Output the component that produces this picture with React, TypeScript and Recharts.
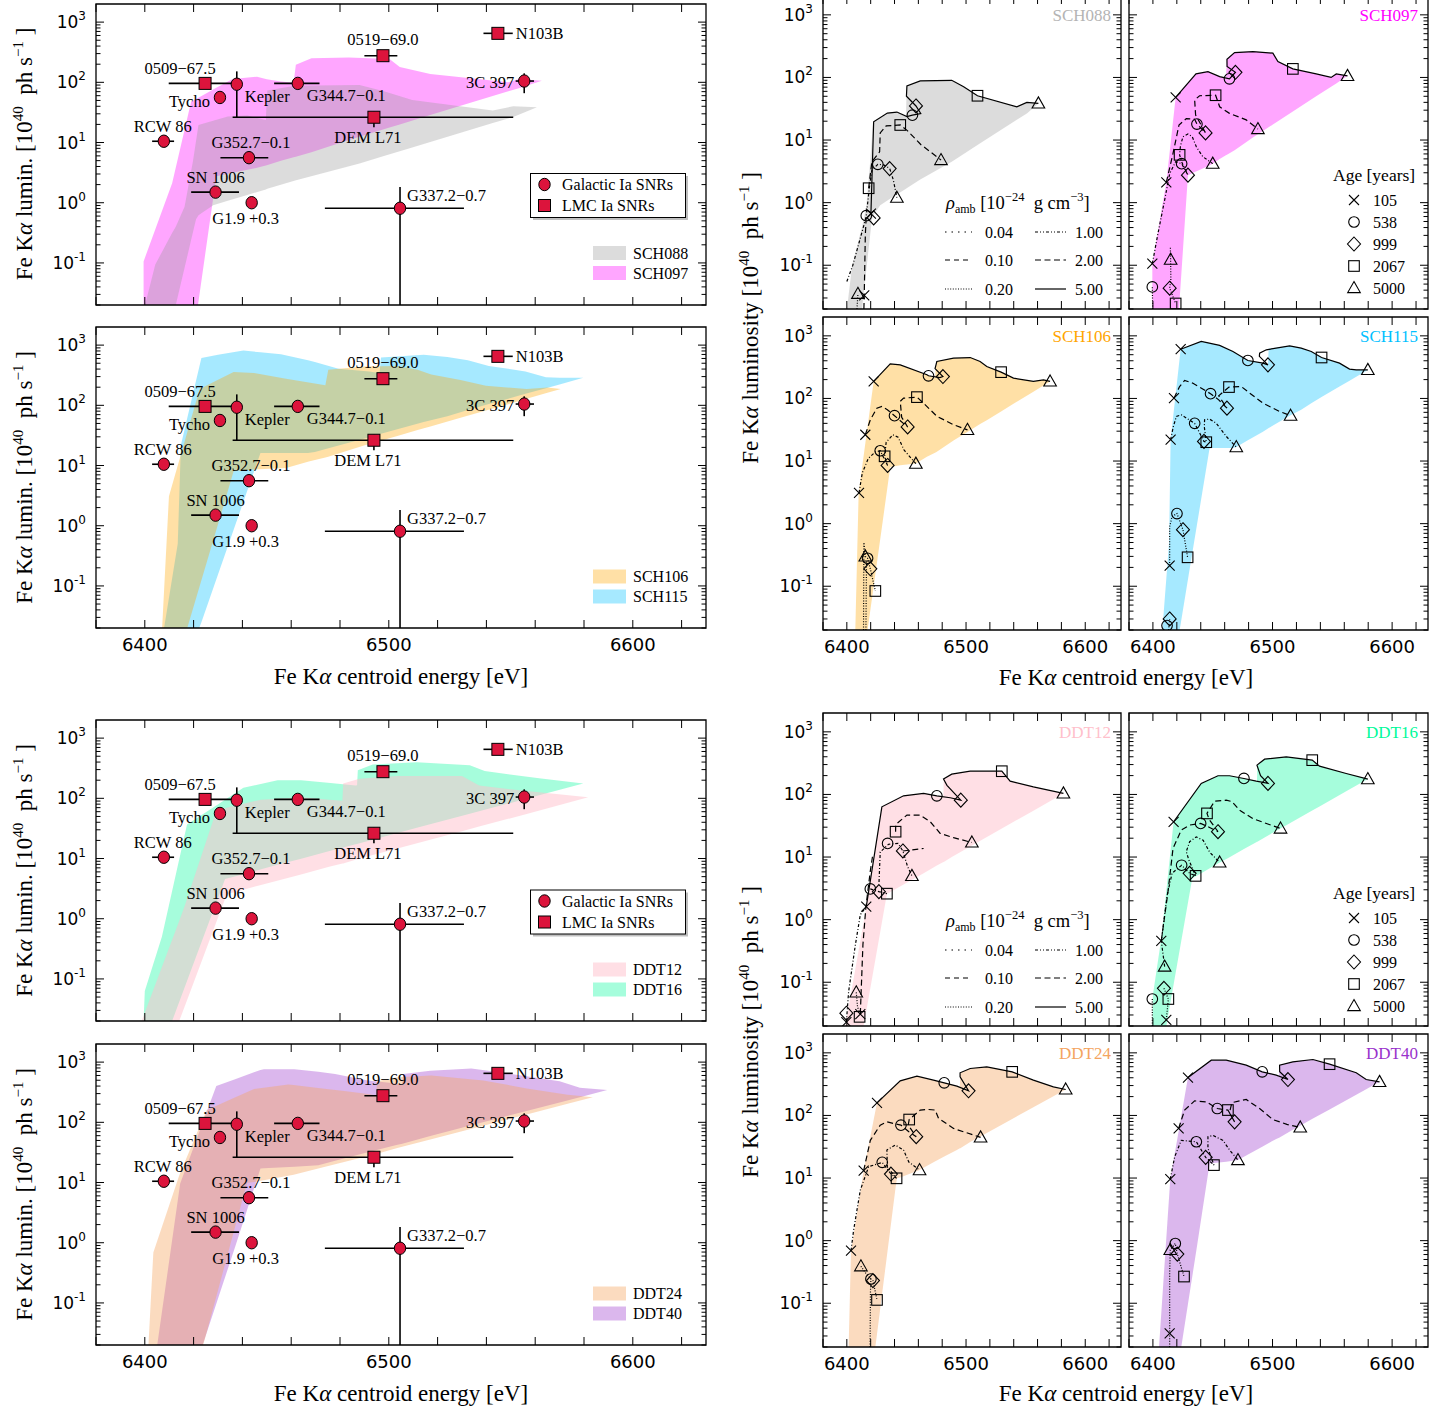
import React from 'react';
import { ComposedChart, XAxis, YAxis, Area, Line, Scatter, ErrorBar, ReferenceArea } from 'recharts';

const SERIF = '"Liberation Serif", "Times New Roman", serif';
const SANS = '"DejaVu Sans", "Liberation Sans", sans-serif';
const RED = '#dc143c';

// ---------------- axes ----------------
const X_DOMAIN = [6380, 6630];
const Y_DOMAIN = [0.02, 2000];
const X_TICKS = [6380, 6400, 6420, 6440, 6460, 6480, 6500, 6520, 6540, 6560, 6580, 6600, 6620];
const X_TICK_LABELS = [6400, 6500, 6600];
const Y_TICKS = [0.02, 0.03, 0.04, 0.05, 0.06, 0.07, 0.08, 0.09, 0.1, 0.2, 0.3, 0.4, 0.5, 0.6, 0.7, 0.8, 0.9, 1, 2, 3, 4, 5, 6, 7, 8, 9, 10, 20, 30, 40, 50, 60, 70, 80, 90, 100, 200, 300, 400, 500, 600, 700, 800, 900, 1000];
const Y_MAJOR = [0.1, 1, 10, 100, 1000];
const Y_MAJOR_EXP = ['-1', '0', '1', '2', '3'];

// ---------------- observed SNRs ----------------
const GAL_NAMES = ['Kepler', 'Tycho', 'RCW 86', 'SN 1006', 'G344.7−0.1', 'G352.7−0.1', 'G1.9 +0.3', 'G337.2−0.7', '3C 397'];
const GAL_E = [6437.7, 6430.8, 6407.8, 6429.0, 6462.7, 6442.7, 6443.8, 6504.6, 6555.5];
const GAL_E_LO = [6437.7, 6430.8, 6403.0, 6419.0, 6453.0, 6431.0, 6443.8, 6473.8, 6552.0];
const GAL_E_HI = [6437.7, 6430.8, 6412.0, 6438.6, 6471.6, 6450.6, 6443.8, 6530.8, 6559.5];
const GAL_L = [93, 56, 10.5, 1.5, 96, 5.6, 1.0, 0.81, 105];
const GAL_L_LO = [26, 56, 10.5, 1.5, 96, 5.6, 1.0, 0.02, 66];
const GAL_L_HI = [152, 56, 10.5, 1.5, 96, 5.6, 1.0, 1.83, 141];

const LMC_NAMES = ['0509−67.5', '0519−69.0', 'N103B', 'DEM L71'];
const LMC_E = [6424.7, 6497.6, 6544.7, 6493.9];
const LMC_E_LO = [6409.8, 6490.0, 6538.8, 6436.0];
const LMC_E_HI = [6437.0, 6503.5, 6550.8, 6551.0];
const LMC_L = [96, 277, 651, 26.3];
const LMC_L_LO = [96, 277, 651, 17.9];
const LMC_L_HI = [96, 277, 651, 32.6];

// label placement (px offsets from marker, anchor)
const OBS_LABEL_POS: Record<string, [number, number, string]> = {
  '0509−67.5': [-25, -15, 'middle'],
  'Tycho': [-10, 4, 'end'],
  'Kepler': [8, 12.5, 'start'],
  'G344.7−0.1': [9, 12.5, 'start'],
  '3C 397': [-10, 1, 'end'],
  'N103B': [18, 0, 'start'],
  '0519−69.0': [0, -16, 'middle'],
  'DEM L71': [-6, 20, 'middle'],
  'RCW 86': [-1, -15, 'middle'],
  'G352.7−0.1': [2, -15, 'middle'],
  'SN 1006': [0, -15, 'middle'],
  'G1.9 +0.3': [-6, 16, 'middle'],
  'G337.2−0.7': [7, -12.5, 'start'],
};

// ---------------- models: regions [E, Lmin, Lmax] ----------------
const SCH088_REGION = [
  [6400.1, 0.02, 0.02], [6404.3, 0.02, 0.094], [6411.3, 0.02, 0.32], [6412.7, 0.02, 0.4], [6416.3, 0.083, 0.86],
  [6419.7, 0.32, 4.8], [6421, 0.53, 10.6], [6422, 0.62, 19.6], [6428, 0.91, 23], [6434, 1.08, 27], [6442, 1.35, 28],
  [6449.6, 1.66, 23.7], [6450.2, 1.7, 73], [6461.6, 2.35, 88], [6488, 4.5, 90], [6498, 6.0, 71], [6509.6, 8.3, 51],
  [6542.6, 21, 34], [6551, 26.6, 40], [6560.7, 38.5, 38.5],
];
const SCH097_REGION = [
  [6399.5, 0.02, 0.106], [6411.2, 0.02, 2.1], [6419, 0.02, 48], [6421.8, 0.02, 55], [6429.3, 2.75, 81], [6436, 3.15, 114],
  [6446, 3.8, 124], [6450, 4.2, 112], [6455.8, 5.0, 103], [6461, 5.7, 98], [6461.9, 5.8, 195], [6468.3, 6.9, 250],
  [6483.6, 11, 259], [6500.3, 17.7, 244], [6504.5, 20, 179], [6517, 28.6, 137], [6536.5, 50, 114], [6549, 71, 100],
  [6553.3, 80, 114], [6562.7, 106, 106],
];
const SCH106_REGION = [
  [6407.1, 0.02, 0.02], [6409.9, 0.02, 3.1], [6417.4, 0.02, 35.6], [6422.5, 0.1, 187], [6429, 0.77, 253],
  [6436.4, 8.0, 357], [6444.8, 8.6, 343], [6457.9, 9.1, 277], [6467.2, 11.7, 239], [6474, 13.6, 215], [6475.2, 14, 389],
  [6489.5, 21.3, 440], [6503.5, 31, 450], [6511.8, 39, 389], [6517.4, 44.8, 324], [6529.4, 62, 263], [6539.8, 82, 211],
  [6556.5, 128, 187], [6565, 161, 198], [6570.5, 187, 187],
];
const SCH115_REGION = [
  [6407.9, 0.02, 0.02], [6413.5, 0.02, 0.5], [6414.8, 0.02, 21.9], [6422.3, 0.02, 429], [6423.2, 0.025, 612],
  [6430, 0.155, 690], [6440.4, 2.49, 813], [6447.4, 16.1, 760], [6455.8, 16.1, 703], [6466.9, 16.1, 562],
  [6469.7, 16.7, 522], [6479.4, 21.5, 404], [6492, 29.5, 366], [6496.2, 33.1, 344], [6496.8, 33.6, 625],
  [6514.3, 52.8, 692], [6524, 66, 636], [6532.4, 84, 562], [6541, 105, 451], [6556, 155, 366], [6564.4, 192, 294],
  [6570, 222, 286], [6579.7, 286, 286],
];
const DDT12_REGION = [
  [6398.7, 0.02, 0.02], [6414.1, 0.02, 0.92], [6416.3, 0.0345, 1.61], [6429.4, 0.9, 63.5], [6433.6, 2.56, 70],
  [6447.6, 3.63, 95], [6464.4, 5.5, 104], [6475.5, 7.3, 95], [6481, 8.3, 91], [6481.3, 8.3, 176], [6488, 10, 211],
  [6503.5, 14.7, 235], [6530, 28.5, 235], [6537, 34, 163], [6556.5, 55, 132], [6581.7, 104, 104],
];
const DDT16_REGION = [
  [6399.5, 0.02, 0.02], [6400, 0.02, 0.063], [6407, 0.02, 0.5], [6411.2, 0.02, 2.9], [6417.3, 0.092, 36.6],
  [6432.9, 4.57, 95], [6440.4, 5.5, 150], [6454.4, 7.9, 199], [6464.1, 9.9, 199], [6476.1, 13.4, 180],
  [6486.4, 17.3, 163], [6487, 17.5, 165], [6487.3, 17.6, 294], [6493.4, 20.6, 366], [6511.5, 32.3, 399],
  [6533.2, 55.4, 353], [6539.3, 64.4, 283], [6561.6, 112, 216], [6579.7, 176, 176],
];
const DDT24_REGION = [
  [6401.5, 0.02, 0.02], [6403.5, 0.02, 0.69], [6414.1, 0.02, 13.1], [6423.9, 0.02, 117], [6425.3, 0.032, 159],
  [6433, 0.46, 219], [6440.6, 6.4, 300], [6442, 9.9, 318], [6444.8, 10.2, 357], [6458.8, 13, 425], [6461, 13.4, 415],
  [6472.7, 17.8, 366], [6481.7, 22, 332], [6492.3, 28, 294], [6494.8, 29.8, 280], [6495.2, 30, 480],
  [6503.5, 37.5, 562], [6517.4, 52.5, 598], [6538.7, 87.8, 497], [6556.5, 135, 366], [6573.3, 203, 286],
  [6583.6, 260, 260],
];
const DDT40_REGION = [
  [6405.1, 0.02, 0.02], [6414.5, 0.02, 9.6], [6421.5, 0.02, 56], [6423.7, 0.02, 98], [6429.3, 0.097, 403],
  [6437, 0.85, 520], [6447.4, 17.1, 740], [6448.8, 17.2, 764], [6461.3, 18.2, 764], [6471.1, 19.4, 690],
  [6478, 22.9, 635], [6491.4, 31.7, 497], [6503.1, 42.2, 441], [6505.5, 44, 420], [6505.9, 44.5, 635],
  [6517, 59, 718], [6533.8, 89, 783], [6547.7, 125, 659], [6570, 214, 480], [6578.3, 262, 375], [6589.5, 344, 344],
];

// ---------------- model tracks (segments of [E, L]) ----------------
const SCH088_T500 = [[[6420.2, 0.67], [6422.5, 19.6], [6434, 27], [6442, 28], [6450.4, 23.7], [6455, 25], [6462, 26.5], [6458, 35], [6450, 50], [6450.4, 73], [6461.6, 88], [6488, 90], [6498, 71], [6509.6, 51], [6542.6, 34], [6551, 40], [6560.7, 38.5]]];
const SCH088_T200 = [[[6414.3, 0.02], [6414.6, 0.033], [6415.5, 0.3], [6416.3, 0.62]], [[6418.3, 1.7], [6421, 4.5], [6427.5, 6.5], [6428, 13], [6433, 16.8], [6444.8, 17.4], [6451, 14], [6462, 8.5], [6479, 4.8]]];
const SCH088_T100 = [[[6400, 0.055], [6405, 0.1], [6410, 0.22], [6414.5, 0.45], [6416.3, 0.62], [6419, 1.8], [6421, 3.3], [6426, 4.1], [6431, 4], [6436, 3.5], [6439, 2.3], [6442, 1.2]]];
const SCH088_TLOW = [[[6408.5, 0.02], [6409.3, 0.035]]];

const SCH097_T500 = [[[6419, 48], [6436, 114], [6446, 124], [6455.8, 103], [6464, 95], [6469, 121], [6462, 150], [6461.9, 195], [6468.3, 250], [6483.6, 259], [6500.3, 244], [6504.5, 179], [6517, 137], [6536.5, 114], [6549, 100], [6553.3, 114], [6562.7, 106]]];
const SCH097_T200 = [[[6411.2, 2.1], [6416.8, 6.1], [6421.8, 17.4], [6427.9, 22], [6434.9, 21.5], [6436.8, 18], [6444, 13], [6435.7, 25], [6434.9, 43.6], [6439, 51], [6452.4, 52], [6455.8, 34], [6464, 26.7], [6478, 21], [6487.8, 15]]];
const SCH097_T100 = [[[6399.5, 0.106], [6404.2, 0.32], [6409.8, 1.1], [6414, 2.9], [6419, 4.5], [6424, 4.2], [6429.3, 2.75], [6424, 4.5], [6422.3, 5.8], [6423, 8], [6425.1, 11.3], [6429.3, 12.5], [6432.9, 11.3], [6436.3, 7.8], [6441.8, 5.4], [6450, 4.2]]];
const SCH097_TLOW = [[[6399.8, 0.02], [6399.5, 0.045]], [[6414.6, 0.19], [6414.8, 0.123], [6415, 0.06], [6414, 0.043], [6419, 0.0245]]];

const SCH106_T500 = [[[6422.5, 187], [6436.4, 357], [6444.8, 343], [6467.2, 239], [6468.5, 230], [6478, 215], [6480.6, 224], [6474, 300], [6475.5, 389], [6489.5, 440], [6503.5, 450], [6511.8, 389], [6517.4, 324], [6529.4, 263], [6539.8, 211], [6556.5, 187], [6565, 198], [6570.5, 187]]];
const SCH106_T200 = [[[6415.5, 26.3], [6419.7, 45.5], [6425.2, 70], [6429.4, 74.5], [6434, 66], [6440, 53], [6451, 35], [6446, 50], [6444.8, 90], [6447.6, 101], [6458.8, 105], [6464.4, 84], [6475.5, 52], [6489.5, 38], [6501.2, 31.5]]];
const SCH106_T100 = [[[6410.2, 3.1], [6413, 6.5], [6418, 11], [6424, 14], [6428, 14.6], [6434.2, 8.5], [6431.7, 11.9], [6433, 20], [6438.5, 26.3], [6443, 24], [6448, 15], [6457.9, 9.1]]];
const SCH106_TLOW = [[[6414, 0.02], [6414.3, 0.5], [6415.5, 0.3], [6417.4, 0.28], [6419.7, 0.19], [6423.9, 0.084]], [[6416, 0.02], [6416.5, 0.25]]];

const SCH115_T500 = [[[6423.2, 612], [6440.4, 813], [6455.8, 703], [6466.9, 562], [6479.4, 404], [6492, 366], [6496.2, 344], [6489, 470], [6489.2, 528], [6494.8, 598], [6514.3, 692], [6524, 636], [6532.4, 562], [6541, 451], [6556, 366], [6564.4, 294], [6570, 286], [6579.7, 286]]];
const SCH115_T200 = [[[6417.6, 101], [6422.3, 155], [6426.5, 194], [6433.5, 175], [6448.2, 119], [6455, 95], [6461.9, 70], [6455, 110], [6463.6, 152], [6473.9, 155], [6480.8, 122], [6492, 84], [6505.9, 62], [6515.1, 53]]];
const SCH115_T100 = [[[6414.8, 21.9], [6417, 35], [6419.6, 51.6], [6423.7, 54.8], [6434.9, 40], [6442.7, 20.6], [6444.6, 20], [6443, 35], [6443.2, 45.7], [6447.4, 46.8], [6453, 40], [6461.3, 24.8], [6469.7, 16.7]]];
const SCH115_TLOW = [[[6414, 0.214], [6414, 0.9], [6416, 1.3], [6420.1, 1.45], [6425.1, 0.8], [6429, 0.29]], [[6413, 0.02], [6414, 0.03]]];

const DDT12_T500 = [[[6416.3, 1.61], [6429.4, 63.5], [6447.6, 95], [6464.4, 104], [6475.5, 95], [6486.7, 88.6], [6495.6, 81], [6484, 140], [6481.1, 176], [6488, 211], [6503.5, 235], [6530, 235], [6537, 163], [6556.5, 132], [6581.7, 104]]];
const DDT12_T200 = [[[6411.3, 0.031], [6413.5, 0.4], [6416, 1.6], [6419.7, 6], [6421.5, 10.1]], [[6440.9, 25.4], [6441, 33], [6450.4, 46.8], [6461.6, 46.8], [6470, 36.6], [6478.3, 23.9], [6489.5, 20.4], [6504.9, 17.1]], [[6447, 12.5], [6464.4, 13.7]]];
const DDT12_T100 = [[[6399.6, 0.023], [6401.5, 0.071], [6407.1, 0.39], [6411.3, 1.2], [6416.3, 1.61]], [[6427, 4], [6428, 12], [6435, 16], [6443, 16.5], [6447, 12.5], [6451, 7], [6454.6, 5.0]], [[6419.7, 3.1], [6426.9, 2.8], [6433.6, 2.6]]];
const DDT12_TLOW = [[[6407.9, 0.069], [6409, 0.04], [6411.3, 0.031]]];

const DDT16_T500 = [[[6417.3, 36.6], [6440.4, 150], [6454.4, 199], [6464.1, 199], [6476.1, 180], [6486.4, 163], [6496.2, 150], [6490, 200], [6487, 294], [6493.4, 366], [6511.5, 399], [6533.2, 353], [6539.3, 283], [6561.6, 216], [6579.7, 176]]];
const DDT16_T200 = [[[6407, 0.457], [6412.6, 2.8], [6416.8, 13.7], [6423.7, 27], [6430.7, 32.4], [6439.9, 34.4], [6447, 30], [6454.4, 25.4], [6447, 40], [6445.2, 49.8], [6451.6, 78], [6461.3, 81], [6466, 77], [6472.5, 56], [6483.6, 41], [6506.7, 28.6]]];
const DDT16_T100 = [[[6409.8, 0.178], [6407, 0.457], [6412, 2.5], [6416, 5.5], [6424, 7.4], [6430.7, 5.5], [6435.7, 5.0], [6430, 9], [6427.9, 12.2], [6430.7, 17.6], [6436.3, 21], [6442, 18.5], [6447.4, 12], [6455.8, 8.2]]];
const DDT16_TLOW = [[[6399.5, 0.02], [6399.5, 0.054]], [[6409.2, 0.08], [6412.9, 0.054], [6411.2, 0.025]]];

const DDT24_T500 = [[[6425.3, 159], [6444.8, 357], [6458.8, 425], [6472.7, 366], [6481.7, 332], [6492.3, 294], [6502.1, 248], [6495, 414], [6495, 480], [6503.5, 562], [6517.4, 598], [6538.7, 497], [6556.5, 366], [6573.3, 286], [6583.6, 260]]];
const DDT24_T200 = [[[6414.1, 13.1], [6419.7, 40], [6428, 70], [6433.6, 79], [6445.4, 70], [6452, 55], [6458.2, 45.7], [6451.5, 70], [6452.3, 86], [6461.6, 122], [6467.2, 125], [6474.1, 122], [6476.9, 90], [6489.5, 62], [6512.2, 44.6]]];
const DDT24_T100 = [[[6403.5, 0.69], [6405.7, 1.48], [6411.3, 6.4], [6418.3, 15.2], [6429.7, 17.8], [6437, 11.6], [6441.7, 9.9], [6434, 15], [6433.6, 28], [6440.6, 33.7], [6447.6, 28], [6452, 18], [6461, 13.4]]];
const DDT24_TLOW = [[[6419.5, 0.02], [6419.8, 0.15], [6420.2, 0.244], [6421.9, 0.23], [6425.3, 0.113]], [[6411.8, 0.39], [6416, 0.3], [6420.2, 0.244]]];

const DDT40_T500 = [[[6429.3, 403], [6448.8, 764], [6461.3, 764], [6478, 635], [6491.4, 497], [6503.1, 441], [6512.9, 375], [6506, 500], [6505.9, 635], [6517, 718], [6533.8, 783], [6547.7, 659], [6570, 480], [6578.3, 375], [6589.5, 344]]];
const DDT40_T200 = [[[6421.5, 62], [6426.5, 122], [6434.9, 171], [6444.6, 165], [6453.8, 129], [6462.7, 122], [6468.3, 79], [6464, 110], [6466, 160], [6478, 180], [6489.2, 129], [6500.3, 86], [6512, 72], [6523.2, 64.4]]];
const DDT40_T100 = [[[6414.5, 9.6], [6418.2, 21.9], [6423.7, 40], [6436.3, 38], [6444.1, 21.4], [6451, 16.1], [6446, 30], [6446, 45.7], [6450.2, 48], [6458.6, 40], [6464.1, 28], [6471.1, 19.4]]];
const DDT40_TLOW = [[[6414, 0.02], [6414, 0.033], [6414, 0.3], [6414.5, 0.71], [6418.7, 0.9], [6420.4, 0.61], [6426, 0.267]]];

// ---------------- model age markers [E, L] ----------------
const SCH088_A105 = [[6420.2, 0.67], [6414.6, 0.033]];
const SCH088_A538 = [[6416.3, 0.62], [6426, 4.1], [6455, 25]];
const SCH088_A999 = [[6422.5, 0.57], [6435.9, 3.5], [6458, 35]];
const SCH088_A2067 = [[6418.3, 1.7], [6444.8, 17.4], [6509.6, 51]];
const SCH088_A5000 = [[6409.3, 0.035], [6442, 1.2], [6479, 4.8], [6560.7, 38.5]];

const SCH097_A105 = [[6419, 48], [6411.2, 2.1], [6399.5, 0.106]];
const SCH097_A538 = [[6464, 95], [6436.8, 18], [6424, 4.2], [6399.5, 0.045]];
const SCH097_A999 = [[6469, 121], [6444, 13], [6429.3, 2.75], [6414, 0.043]];
const SCH097_A2067 = [[6517, 137], [6452.4, 52], [6422.3, 5.8], [6419, 0.0245]];
const SCH097_A5000 = [[6562.7, 106], [6487.8, 15], [6450, 4.2], [6414.8, 0.123]];

const SCH106_A105 = [[6422.5, 187], [6415.5, 26.3], [6410.2, 3.1]];
const SCH106_A538 = [[6468.5, 230], [6440, 53], [6428, 14.6], [6417.4, 0.28]];
const SCH106_A999 = [[6480.6, 224], [6451, 35], [6434.2, 8.5], [6419.7, 0.19]];
const SCH106_A2067 = [[6529.4, 263], [6458.8, 105], [6431.7, 11.9], [6423.9, 0.084]];
const SCH106_A5000 = [[6570.5, 187], [6501.2, 31.5], [6457.9, 9.1], [6415.5, 0.3]];

const SCH115_A105 = [[6423.2, 612], [6417.6, 101], [6414.8, 21.9], [6414, 0.214]];
const SCH115_A538 = [[6479.4, 404], [6448.2, 119], [6434.9, 40], [6420.1, 1.45], [6411.8, 0.0235]];
const SCH115_A999 = [[6496.2, 344], [6461.9, 70], [6442.7, 20.6], [6425.1, 0.8], [6414, 0.03]];
const SCH115_A2067 = [[6541, 451], [6463.6, 152], [6444.6, 20], [6429, 0.29]];
const SCH115_A5000 = [[6579.7, 286], [6515.1, 53], [6469.7, 16.7]];

const DDT12_A105 = [[6416.3, 1.61], [6411.3, 0.031], [6399.6, 0.023]];
const DDT12_A538 = [[6475.5, 95], [6434.2, 16.5], [6419.7, 3.1]];
const DDT12_A999 = [[6495.6, 81], [6447, 12.5], [6426.9, 2.8], [6399.6, 0.032]];
const DDT12_A2067 = [[6530, 235], [6440.9, 25.4], [6433.6, 2.6], [6410.7, 0.028]];
const DDT12_A5000 = [[6581.7, 104], [6504.9, 17.1], [6454.6, 5.0], [6407.9, 0.069]];

const DDT16_A105 = [[6417.3, 36.6], [6407, 0.457], [6411.2, 0.025]];
const DDT16_A538 = [[6476.1, 180], [6439.9, 34.4], [6424, 7.4], [6399.5, 0.054]];
const DDT16_A999 = [[6496.2, 150], [6454.4, 25.4], [6430.7, 5.5], [6409.2, 0.08]];
const DDT16_A2067 = [[6533.2, 353], [6445.2, 49.8], [6435.7, 5.0], [6412.9, 0.054]];
const DDT16_A5000 = [[6579.7, 176], [6506.7, 28.6], [6455.8, 8.2], [6409.8, 0.178]];

const DDT24_A105 = [[6425.3, 159], [6414.1, 13.1], [6403.5, 0.69]];
const DDT24_A538 = [[6481.7, 332], [6445.4, 70], [6429.7, 17.8], [6420.2, 0.244]];
const DDT24_A999 = [[6502.1, 248], [6458.2, 45.7], [6437, 11.6], [6421.9, 0.23]];
const DDT24_A2067 = [[6538.7, 497], [6452.3, 86], [6441.7, 9.9], [6425.3, 0.113]];
const DDT24_A5000 = [[6583.6, 260], [6512.2, 44.6], [6461, 13.4], [6411.8, 0.39]];

const DDT40_A105 = [[6429.3, 403], [6421.5, 62], [6414.5, 9.6], [6414, 0.033]];
const DDT40_A538 = [[6491.4, 497], [6453.8, 129], [6436.3, 38], [6418.7, 0.9]];
const DDT40_A999 = [[6512.9, 375], [6468.3, 79], [6444.1, 21.4], [6420.4, 0.61]];
const DDT40_A2067 = [[6547.7, 659], [6462.7, 122], [6451, 16.1], [6426, 0.267]];
const DDT40_A5000 = [[6589.5, 344], [6523.2, 64.4], [6471.1, 19.4], [6414.5, 0.71]];

// legend texts
const AGES = ['105', '538', '999', '2067', '5000'];
const AGE_KINDS = ['x', 'o', 'd', 's', 't'];
const RHO_LEFT = ['0.04', '0.10', '0.20'];
const RHO_RIGHT = ['1.00', '2.00', '5.00'];

// ---------------- styles ----------------
const DASH: Record<string, string | undefined> = {
  '0.04': '1.5 5', '0.10': '5 4', '0.20': '1 1.6', '1.00': '3 2 1 2 1 2', '2.00': '6 3.5', '5.00': undefined,
};
const TRACK_DASH = { t500: undefined, t200: '6 3.5', t100: '3 2 1 2', tlow: '1 1.6' };

const MODEL_STYLE: Record<string, { color: string; opacity: number; text: string }> = {
  SCH088: { color: '#9a9a9a', opacity: 0.35, text: '#b4b4b4' },
  SCH097: { color: '#ff00ff', opacity: 0.35, text: '#ff00ff' },
  SCH106: { color: '#ffa500', opacity: 0.35, text: '#ffa500' },
  SCH115: { color: '#00bfff', opacity: 0.35, text: '#00bfff' },
  DDT12: { color: '#ffc0cb', opacity: 0.5, text: '#ffc0cb' },
  DDT16: { color: '#00fa9a', opacity: 0.35, text: '#00fa9a' },
  DDT24: { color: '#f4a460', opacity: 0.4, text: '#f4a460' },
  DDT40: { color: '#9932cc', opacity: 0.35, text: '#9932cc' },
};

const MODELS: Record<string, any> = {
  SCH088: { region: SCH088_REGION, t500: SCH088_T500, t200: SCH088_T200, t100: SCH088_T100, tlow: SCH088_TLOW, ages: [SCH088_A105, SCH088_A538, SCH088_A999, SCH088_A2067, SCH088_A5000] },
  SCH097: { region: SCH097_REGION, t500: SCH097_T500, t200: SCH097_T200, t100: SCH097_T100, tlow: SCH097_TLOW, ages: [SCH097_A105, SCH097_A538, SCH097_A999, SCH097_A2067, SCH097_A5000] },
  SCH106: { region: SCH106_REGION, t500: SCH106_T500, t200: SCH106_T200, t100: SCH106_T100, tlow: SCH106_TLOW, ages: [SCH106_A105, SCH106_A538, SCH106_A999, SCH106_A2067, SCH106_A5000] },
  SCH115: { region: SCH115_REGION, t500: SCH115_T500, t200: SCH115_T200, t100: SCH115_T100, tlow: SCH115_TLOW, ages: [SCH115_A105, SCH115_A538, SCH115_A999, SCH115_A2067, SCH115_A5000] },
  DDT12: { region: DDT12_REGION, t500: DDT12_T500, t200: DDT12_T200, t100: DDT12_T100, tlow: DDT12_TLOW, ages: [DDT12_A105, DDT12_A538, DDT12_A999, DDT12_A2067, DDT12_A5000] },
  DDT16: { region: DDT16_REGION, t500: DDT16_T500, t200: DDT16_T200, t100: DDT16_T100, tlow: DDT16_TLOW, ages: [DDT16_A105, DDT16_A538, DDT16_A999, DDT16_A2067, DDT16_A5000] },
  DDT24: { region: DDT24_REGION, t500: DDT24_T500, t200: DDT24_T200, t100: DDT24_T100, tlow: DDT24_TLOW, ages: [DDT24_A105, DDT24_A538, DDT24_A999, DDT24_A2067, DDT24_A5000] },
  DDT40: { region: DDT40_REGION, t500: DDT40_T500, t200: DDT40_T200, t100: DDT40_T100, tlow: DDT40_TLOW, ages: [DDT40_A105, DDT40_A538, DDT40_A999, DDT40_A2067, DDT40_A5000] },
};

const toRegion = (rows: number[][]) => rows.map(([x, lo, hi]) => ({ x, r: [lo, hi] }));
const toPts = (rows: number[][]) => rows.map(([x, y]) => ({ x, y }));

const obsTable = (names: string[], e: number[], elo: number[], ehi: number[], l: number[], llo: number[], lhi: number[]) =>
  names.map((name, i) => ({ name, x: e[i], y: l[i], ex: [e[i] - elo[i], ehi[i] - e[i]], ey: [l[i] - llo[i], lhi[i] - l[i]] }));
const GAL_DATA = obsTable(GAL_NAMES, GAL_E, GAL_E_LO, GAL_E_HI, GAL_L, GAL_L_LO, GAL_L_HI);
const LMC_DATA = obsTable(LMC_NAMES, LMC_E, LMC_E_LO, LMC_E_HI, LMC_L, LMC_L_LO, LMC_L_HI);

// ---------------- marker shapes ----------------
const SW = 1.1;
function drawMarker(kind: string, cx: number, cy: number) {
  if (kind === 'x') return <path d={`M${cx - 5},${cy - 5}L${cx + 5},${cy + 5}M${cx - 5},${cy + 5}L${cx + 5},${cy - 5}`} stroke="#000" strokeWidth={SW} fill="none" />;
  if (kind === 'o') return <circle cx={cx} cy={cy} r={5.3} stroke="#000" strokeWidth={SW} fill="none" />;
  if (kind === 'd') return <path d={`M${cx},${cy - 7}L${cx + 6.5},${cy}L${cx},${cy + 7}L${cx - 6.5},${cy}Z`} stroke="#000" strokeWidth={SW} fill="none" />;
  if (kind === 's') return <rect x={cx - 5.3} y={cy - 5.3} width={10.6} height={10.6} stroke="#000" strokeWidth={SW} fill="none" />;
  return <path d={`M${cx},${cy - 6.5}L${cx + 6.3},${cy + 4.6}L${cx - 6.3},${cy + 4.6}Z`} stroke="#000" strokeWidth={SW} fill="none" />;
}

const obsShape = (kind: string) => (p: any) => {
  const { cx, cy, payload } = p;
  if (cx == null || cy == null) return <g />;
  const pos = OBS_LABEL_POS[payload.name] || [0, -15, 'middle'];
  return (
    <g>
      {kind === 'c'
        ? <ellipse cx={cx} cy={cy} rx={5.7} ry={6.2} fill={RED} stroke="#000" strokeWidth={1} />
        : <rect x={cx - 6} y={cy - 6} width={12} height={12} fill={RED} stroke="#000" strokeWidth={1} />}
      <text x={cx + pos[0]} y={cy + pos[1] + 5.5} textAnchor={pos[2] as any} fontFamily={SERIF} fontSize={16.5} fill="#000">{payload.name}</text>
    </g>
  );
};

// ---------------- panel ----------------
function Panel(props: any) {
  const { fx, fy, fw, fh, xLab, yLab, areas, model, obs } = props;
  const YW = 70, XH = 32, MT = 10, MR = 12;
  const W = YW + fw + MR, H = MT + fh + XH;

  const xTick = (p: any) => {
    const { x, y, payload } = p;
    const v = payload.value;
    return (
      <g>
        <line x1={x} x2={x} y1={y} y2={y - 8} stroke="#000" strokeWidth={1} />
        <line x1={x} x2={x} y1={y - fh} y2={y - fh + 8} stroke="#000" strokeWidth={1} />
        {xLab && X_TICK_LABELS.includes(v) ? (
          <text x={x} y={y + 23} textAnchor="middle" fontFamily={SANS} fontSize={18} fill="#000">{v}</text>
        ) : null}
      </g>
    );
  };
  const yTick = (p: any) => {
    const { x, y, payload } = p;
    const v = payload.value;
    const mi = Y_MAJOR.indexOf(v);
    const len = mi >= 0 ? 8 : 4.5;
    return (
      <g>
        <line x1={x} x2={x + len} y1={y} y2={y} stroke="#000" strokeWidth={1} />
        <line x1={x + fw} x2={x + fw - len} y1={y} y2={y} stroke="#000" strokeWidth={1} />
        {yLab && mi >= 0 ? (
          <text x={x - 10} y={y + 6} textAnchor="end" fontFamily={SANS} fontSize={17} fill="#000">
            10<tspan dy={-8} fontSize={12}>{Y_MAJOR_EXP[mi]}</tspan>
          </text>
        ) : null}
      </g>
    );
  };

  const lines: any[] = [];
  if (model) {
    (['tlow', 't100', 't200', 't500'] as const).forEach((k) => {
      (MODELS[model][k] as number[][][]).forEach((seg, i) => {
        lines.push({ key: `${k}-${i}`, data: toPts(seg), dash: (TRACK_DASH as any)[k] });
      });
    });
  }

  return (
    <div style={{ position: 'absolute', left: fx - YW, top: fy - MT, width: W, height: H }}>
      <ComposedChart width={W} height={H} margin={{ top: MT, right: MR, bottom: 0, left: 0 }}>
        <XAxis type="number" dataKey="x" domain={X_DOMAIN} allowDataOverflow ticks={X_TICKS} interval={0}
          height={XH} tickSize={0} tickMargin={0} axisLine={false} tickLine={false} tick={xTick} />
        <YAxis type="number" dataKey="y" scale="log" domain={Y_DOMAIN} allowDataOverflow ticks={Y_TICKS} interval={0}
          width={YW} tickSize={0} tickMargin={0} axisLine={false} tickLine={false} tick={yTick} />
        {areas.map((name: string) => (
          <Area key={`area-${name}`} data={toRegion(MODELS[name].region)} dataKey="r" type="linear" stroke="none"
            fill={MODEL_STYLE[name].color} fillOpacity={MODEL_STYLE[name].opacity}
            isAnimationActive={false} dot={false} activeDot={false} />
        ))}
        {lines.map((l) => (
          <Line key={l.key} data={l.data} dataKey="y" type="linear" stroke="#000" strokeWidth={1.2}
            strokeDasharray={l.dash} dot={false} activeDot={false} isAnimationActive={false} />
        ))}
        {model && MODELS[model].ages.map((pts: number[][], i: number) => (
          <Scatter key={`age-${i}`} data={toPts(pts)} isAnimationActive={false}
            shape={(p: any) => (p.cx == null ? <g /> : drawMarker(AGE_KINDS[i], p.cx, p.cy))} />
        ))}
        {obs && (
          <Scatter data={LMC_DATA} shape={obsShape('s')} isAnimationActive={false}>
            <ErrorBar dataKey="ex" direction="x" width={0} stroke="#000" strokeWidth={1.6} />
            <ErrorBar dataKey="ey" direction="y" width={0} stroke="#000" strokeWidth={1.6} />
          </Scatter>
        )}
        {obs && (
          <Scatter data={GAL_DATA} shape={obsShape('c')} isAnimationActive={false}>
            <ErrorBar dataKey="ex" direction="x" width={0} stroke="#000" strokeWidth={1.6} />
            <ErrorBar dataKey="ey" direction="y" width={0} stroke="#000" strokeWidth={1.6} />
          </Scatter>
        )}
        <ReferenceArea x1={X_DOMAIN[0]} x2={X_DOMAIN[1]} y1={Y_DOMAIN[0]} y2={Y_DOMAIN[1]} fill="none" fillOpacity={0}
          stroke="#000" strokeWidth={1.3} ifOverflow="visible" />
      </ComposedChart>
    </div>
  );
}

// ---------------- static text overlay ----------------
const LEFT_PANELS = [
  { fy: 3.5, areas: ['SCH097', 'SCH088'], legend: ['SCH088', 'SCH097'], box: true, xLab: false },
  { fy: 327, areas: ['SCH115', 'SCH106'], legend: ['SCH106', 'SCH115'], box: false, xLab: true },
  { fy: 720, areas: ['DDT16', 'DDT12'], legend: ['DDT12', 'DDT16'], box: true, xLab: false },
  { fy: 1044, areas: ['DDT40', 'DDT24'], legend: ['DDT24', 'DDT40'], box: false, xLab: true },
];
const L_FX = 96, L_FW = 610, L_FH = 301;
const C_FX = [823, 1129], C_FW = [298, 299];
const R_FY = [-4, 317, 713, 1034], R_FH = 313;
const RIGHT_PANELS = [
  { m: 'SCH088', c: 0, r: 0 }, { m: 'SCH097', c: 1, r: 0 },
  { m: 'SCH106', c: 0, r: 1 }, { m: 'SCH115', c: 1, r: 1 },
  { m: 'DDT12', c: 0, r: 2 }, { m: 'DDT16', c: 1, r: 2 },
  { m: 'DDT24', c: 0, r: 3 }, { m: 'DDT40', c: 1, r: 3 },
];

function YLabel({ x, cy, text }: any) {
  return (
    <text transform={`translate(${x},${cy}) rotate(-90)`} x={0} y={8} textAnchor="middle" fontFamily={SERIF} fontSize={23} fill="#000">
      Fe K<tspan fontStyle="italic">α</tspan> {text} [10<tspan dy={-9} fontSize={15}>40</tspan>
      <tspan dy={9}>{'\u00a0\u00a0'}ph s</tspan><tspan dy={-9} fontSize={15}>−1</tspan><tspan dy={9}>{'\u00a0'}]</tspan>
    </text>
  );
}
function XLabel({ cx, y }: any) {
  return (
    <text x={cx} y={y} textAnchor="middle" fontFamily={SERIF} fontSize={23} fill="#000">
      Fe K<tspan fontStyle="italic">α</tspan> centroid energy [eV]
    </text>
  );
}

function RhoLegend({ y0 }: any) {
  const rows = [y0 + 29, y0 + 57, y0 + 86];
  return (
    <g fontFamily={SERIF} fontSize={16} fill="#000">
      <text x={946} y={y0 + 6} fontSize={18.5}>
        <tspan fontStyle="italic">ρ</tspan><tspan dy={4} fontSize={12}>amb</tspan>
        <tspan dy={-4}>{' [10'}</tspan><tspan dy={-8} fontSize={12.5}>−24</tspan>
        <tspan dy={8}>{'\u00a0\u00a0g cm'}</tspan><tspan dy={-8} fontSize={12.5}>−3</tspan><tspan dy={8}>]</tspan>
      </text>
      {RHO_LEFT.map((r, i) => (
        <g key={r}>
          <line x1={945} x2={972} y1={rows[i]} y2={rows[i]} stroke="#000" strokeWidth={1.2} strokeDasharray={DASH[r]} />
          <text x={985} y={rows[i] + 5.5}>{r}</text>
        </g>
      ))}
      {RHO_RIGHT.map((r, i) => (
        <g key={r}>
          <line x1={1035} x2={1066} y1={rows[i]} y2={rows[i]} stroke="#000" strokeWidth={1.2} strokeDasharray={DASH[r]} />
          <text x={1075} y={rows[i] + 5.5}>{r}</text>
        </g>
      ))}
    </g>
  );
}

function AgeLegend({ y0 }: any) {
  const dys = [25, 47, 69, 91, 113];
  return (
    <g fontFamily={SERIF} fontSize={16} fill="#000">
      <text x={1333} y={y0 + 6} fontSize={17.5}>Age [years]</text>
      {AGES.map((a, i) => (
        <g key={a}>
          {drawMarker(AGE_KINDS[i], 1354, y0 + dys[i])}
          <text x={1373} y={y0 + dys[i] + 5.5}>{a}</text>
        </g>
      ))}
    </g>
  );
}

function Overlay() {
  return (
    <svg width={1452} height={1410} style={{ position: 'absolute', left: 0, top: 0, pointerEvents: 'none' }}>
      {LEFT_PANELS.map((p, i) => {
        const cy = p.fy + L_FH / 2;
        const ly = [p.fy + 249.5, p.fy + 269.5];
        return (
          <g key={`lp${i}`}>
            <YLabel x={24} cy={cy} text="lumin." />
            {p.xLab ? <XLabel cx={L_FX + L_FW / 2} y={p.fy + L_FH + 56} /> : null}
            {p.legend.map((m, j) => (
              <g key={m}>
                <rect x={593} y={ly[j] - 7} width={33} height={14} fill={MODEL_STYLE[m].color} fillOpacity={MODEL_STYLE[m].opacity} />
                <text x={633} y={ly[j] + 5.5} fontFamily={SERIF} fontSize={16} fill="#000">{m}</text>
              </g>
            ))}
            {p.box ? (
              <g>
                <rect x={533} y={p.fy + 172.5} width={155} height={44} fill="#8a8a8a" fillOpacity={0.55} />
                <rect x={530.5} y={p.fy + 170} width={155} height={44} fill="#fff" stroke="#000" strokeWidth={1} />
                <ellipse cx={544.5} cy={p.fy + 181} rx={5.7} ry={6.2} fill={RED} stroke="#000" strokeWidth={1} />
                <text x={562} y={p.fy + 186.5} fontFamily={SERIF} fontSize={16} fill="#000">Galactic Ia SNRs</text>
                <rect x={538.5} y={p.fy + 196} width={12} height={12} fill={RED} stroke="#000" strokeWidth={1} />
                <text x={562} y={p.fy + 207.5} fontFamily={SERIF} fontSize={16} fill="#000">LMC Ia SNRs</text>
              </g>
            ) : null}
          </g>
        );
      })}
      {RIGHT_PANELS.map((p) => {
        const fx = C_FX[p.c], fw = C_FW[p.c], fy = R_FY[p.r];
        const tickY = fy + R_FH * (Math.log10(2000) - 3) / 5;
        return (
          <text key={`t${p.m}`} x={fx + fw - 10} y={tickY + 6} textAnchor="end" fontFamily={SERIF} fontSize={17}
            fill={MODEL_STYLE[p.m].text}>{p.m}</text>
        );
      })}
      <YLabel x={750} cy={318} text="luminosity" />
      <YLabel x={750} cy={1032} text="luminosity" />
      <XLabel cx={1126} y={685} />
      <XLabel cx={1126} y={1401} />
      <RhoLegend y0={203} />
      <RhoLegend y0={921} />
      <AgeLegend y0={175} />
      <AgeLegend y0={893} />
    </svg>
  );
}

export default function App() {
  return (
    <div style={{ position: 'absolute', left: 0, top: 0, width: 1452, height: 1410, background: '#fff', overflow: 'hidden' }}>
      {LEFT_PANELS.map((p, i) => (
        <Panel key={`L${i}`} fx={L_FX} fy={p.fy} fw={L_FW} fh={L_FH} xLab={p.xLab} yLab={true} areas={p.areas} obs={true} />
      ))}
      {RIGHT_PANELS.map((p) => (
        <Panel key={`R${p.m}`} fx={C_FX[p.c]} fy={R_FY[p.r]} fw={C_FW[p.c]} fh={R_FH}
          xLab={p.r === 1 || p.r === 3} yLab={p.c === 0} areas={[p.m]} model={p.m} />
      ))}
      <Overlay />
    </div>
  );
}
